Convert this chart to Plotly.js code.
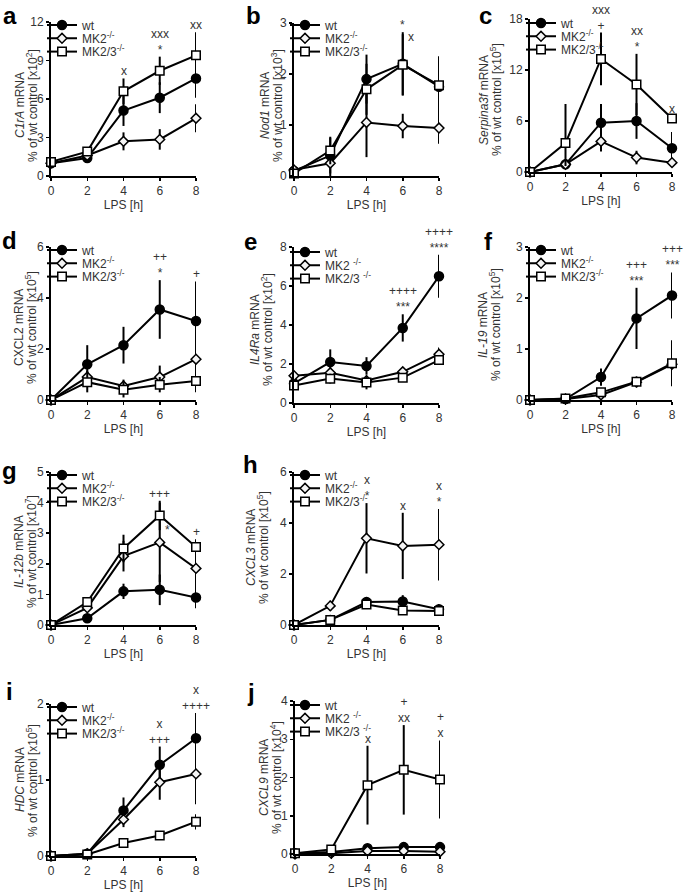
<!DOCTYPE html>
<html><head><meta charset="utf-8">
<script src="https://cdn.plot.ly/plotly-3.0.1.min.js"></script>
<style>html,body{margin:0;padding:0;background:#fff}</style>
</head><body><div id="chart" style="width:685px;height:896px"></div>
<script>
// ---------- DATA ----------
const hours = [0, 2, 4, 6, 8];
const seriesNames = ['wt', 'MK2<sup>-/-</sup>', 'MK2/3<sup>-/-</sup>'];
const seriesNamesSp = ['wt', 'MK2 <sup>-/-</sup>', 'MK2/3 <sup>-/-</sup>'];
const panelLetters = ['a','b','c','d','e','f','g','h','i','j'];
const geneNames = ['<i>C1rA</i>','<i>Nod1</i>','<i>Serpina3f</i>','CXCL2','<i>IL4Ra</i>','<i>IL-19</i>','<i>IL-12b</i>','<i>CXCL3</i>','<i>HDC</i>','<i>CXCL9</i>'];
const exponents = [2, 3, 5, 5, 2, 5, 7, 5, 5, 4];
const yMax = [12, 3, 18, 6, 8, 3, 5, 6, 2, 4];
const yStep = [3, 1, 6, 2, 2, 1, 1, 2, 1, 1];

// a  C1rA
const aWt = [1.0, 1.4, 5.1, 6.1, 7.6],   aWtErr = [0.1, 0.25, 1.2, 1.2, 1.5];
const aMk2 = [1.0, 1.6, 2.7, 2.85, 4.5], aMk2Err = [0.1, 0.2, 0.7, 0.8, 1.1];
const aMk23 = [1.1, 1.9, 6.6, 8.2, 9.4], aMk23Err = [0.1, 0.25, 1.0, 1.1, 1.8];
// b  Nod1
const bWt = [0.1, 0.4, 1.9, 2.2, 1.75],    bWtErr = [0.05, 0.35, 0.48, 0.62, 0.6];
const bMk2 = [0.12, 0.25, 1.05, 0.98, 0.94], bMk2Err = [0.05, 0.25, 0.68, 0.24, 0.31];
const bMk23 = [0.05, 0.5, 1.7, 2.18, 1.78], bMk23Err = [0.05, 0.27, 0.5, 0.6, 0.55];
// c  Serpina3f
const cWt = [0, 0.9, 5.8, 6.0, 2.8],     cWtErr = [0, 0.4, 2.2, 2.1, 1.9];
const cMk2 = [0, 0.9, 3.6, 1.7, 1.1],    cMk2Err = [0, 0.3, 1.2, 0.8, 0.5];
const cMk23 = [0, 3.4, 13.3, 10.3, 6.3], cMk23Err = [0, 4.6, 3.1, 3.6, 0.3], cMk23ErrMinus = [0, 2.7, 3.1, 3.6, 0.3];
// d  CXCL2
const dWt = [0, 1.4, 2.15, 3.55, 3.1],  dWtErr = [0, 0.75, 0.72, 1.15, 1.55];
const dMk2 = [0, 0.9, 0.55, 0.9, 1.6],  dMk2Err = [0, 0.25, 0.25, 0.45, 0.6];
const dMk23 = [0, 0.7, 0.4, 0.6, 0.75], dMk23Err = [0, 0.4, 0.3, 0.3, 0.45];
// e  IL4Ra
const eWt = [1.0, 2.1, 1.9, 3.85, 6.5],   eWtErr = [0.2, 0.65, 0.45, 0.7, 1.1];
const eMk2 = [1.4, 1.55, 1.15, 1.6, 2.5], eMk2Err = [0.15, 0.2, 0.15, 0.2, 0.35];
const eMk23 = [0.9, 1.25, 1.05, 1.3, 2.2], eMk23Err = [0.15, 0.25, 0.35, 0.2, 0.2];
// f  IL-19
const fWt = [0, 0.02, 0.45, 1.6, 2.05],  fWtErr = [0, 0.02, 0.17, 0.6, 0.45];
const fMk2 = [0, 0.02, 0.1, 0.35, 0.7],  fMk2Err = [0, 0.02, 0.05, 0.1, 0.4];
const fMk23 = [0, 0.03, 0.15, 0.36, 0.72], fMk23Err = [0, 0.02, 0.06, 0.1, 0.45];
// g  IL-12b
const gWt = [0, 0.22, 1.1, 1.15, 0.9],    gWtErr = [0, 0.08, 0.25, 0.5, 0.35];
const gMk2 = [0, 0.56, 2.25, 2.7, 1.85],  gMk2Err = [0, 0.1, 0.5, 1.3, 0.8];
const gMk23 = [0, 0.75, 2.5, 3.58, 2.55], gMk23Err = [0, 0.1, 0.45, 0.48, 0.25];
// h  CXCL3
const hWt = [0, 0.2, 0.9, 0.92, 0.62],   hWtErr = [0, 0.1, 0.2, 0.25, 0.2];
const hMk2 = [0, 0.75, 3.4, 3.1, 3.15],  hMk2Err = [0, 0.2, 1.38, 1.3, 1.4];
const hMk23 = [0, 0.2, 0.8, 0.57, 0.55], hMk23Err = [0, 0.05, 0.15, 0.15, 0.15];
// i  HDC
const iWt = [0, 0.03, 0.6, 1.2, 1.55],   iWtErr = [0, 0.02, 0.17, 0.24, 0.33];
const iMk2 = [0, 0.03, 0.48, 0.97, 1.08], iMk2Err = [0, 0.02, 0.1, 0.23, 0.4];
const iMk23 = [0, 0.02, 0.17, 0.27, 0.45], iMk23Err = [0, 0.01, 0.05, 0.05, 0.1];
// j  CXCL9
const jWt = [0.02, 0.05, 0.15, 0.18, 0.18], jWtErr = [0, 0.02, 0.05, 0.05, 0.05];
const jMk2 = [0.0, 0.02, 0.08, 0.08, 0.06], jMk2Err = [0, 0.01, 0.03, 0.03, 0.03];
const jMk23 = [0.02, 0.12, 1.8, 2.2, 1.95], jMk23Err = [0, 0.05, 1.03, 1.17, 1.02];

// significance labels (lower line just above the bars, upper line above it)
const sigLow = [
  ['', '', 'x', '*', 'xx'], ['', '', '', '*', ''], ['', '', '+', '*', 'x'],
  ['', '', '', '*', '+'], ['', '', '', '***', '****'], ['', '', '', '***', '***'],
  ['', '', '', '+++', '+'], ['', '', '*', 'x', '*'], ['', '', '', '+++', '++++'],
  ['', '', 'x', 'xx', 'x']];
const sigHigh = [
  ['', '', '', 'xxx', ''], ['', '', '', '', ''], ['', '', 'xxx', 'xx', ''],
  ['', '', '', '++', ''], ['', '', '', '++++', '++++'], ['', '', '', '+++', '+++'],
  ['', '', '', '', ''], ['', '', 'x', '', 'x'], ['', '', '', 'x', 'x'],
  ['', '', '', '+', '+']];
const sideNotes = [{panel: 1, x: 6, y: 2.72, t: 'x'}, {panel: 6, x: 6, y: 3.1, t: '*'}];

const wtVals = [aWt, bWt, cWt, dWt, eWt, fWt, gWt, hWt, iWt, jWt];
const wtErrs = [aWtErr, bWtErr, cWtErr, dWtErr, eWtErr, fWtErr, gWtErr, hWtErr, iWtErr, jWtErr];
const mk2Vals = [aMk2, bMk2, cMk2, dMk2, eMk2, fMk2, gMk2, hMk2, iMk2, jMk2];
const mk2Errs = [aMk2Err, bMk2Err, cMk2Err, dMk2Err, eMk2Err, fMk2Err, gMk2Err, hMk2Err, iMk2Err, jMk2Err];
const mk23Vals = [aMk23, bMk23, cMk23, dMk23, eMk23, fMk23, gMk23, hMk23, iMk23, jMk23];
const mk23Errs = [aMk23Err, bMk23Err, cMk23Err, dMk23Err, eMk23Err, fMk23Err, gMk23Err, hMk23Err, iMk23Err, jMk23Err];
const mk23ErrsMinus = [aMk23Err, bMk23Err, cMk23ErrMinus, dMk23Err, eMk23Err, fMk23Err, gMk23Err, hMk23Err, iMk23Err, jMk23Err];

// ---------- GEOMETRY (pixels) ----------
const W = 685, H = 896;
// [xLeft, xRight, yTop, yBottom]
const boxes = [
  [51, 196, 22, 176], [294, 439, 23, 176], [530, 672, 19, 172],
  [51, 196, 247, 400], [294, 439, 247, 403], [530, 672, 247, 400],
  [51, 196, 472, 625], [294, 439, 472, 625],
  [51, 196, 704, 856], [295, 440, 701, 854]];
// letter: [x center, y top]
const letterPos = [[10, 0], [253, 0], [486, 0], [9, 225], [250, 226], [488, 226], [9, 455], [250, 449], [9, 676], [251, 677]];
// y title: [x line1, x line2, y center]
const yTitlePos = [[20, 32, 105], [265, 277, 106], [484, 496, 100], [19, 31, 328], [255, 267, 330], [483, 495, 325], [19, 31, 552], [251, 263, 548], [20, 32, 780], [264, 276, 778]];
// legend: [axis x, first item center y]
const legendPos = [[50, 25], [293, 25], [529, 23], [50, 250], [293, 252], [529, 250], [50, 475], [293, 475], [50, 707], [293, 705]];
const legendStep = 13.3;

const TXT = '#333';
const FONT = 'Arial, "Liberation Sans", sans-serif';
const traces = [], annotations = [];
const layout = {
  width: W, height: H, margin: {l: 0, r: 0, t: 0, b: 0},
  paper_bgcolor: '#fff', plot_bgcolor: 'rgba(0,0,0,0)',
  font: {family: FONT, size: 12, color: TXT},
  showlegend: true
};

const styles = [
  {symbol: 'circle', size: 9, color: '#000'},
  {symbol: 'diamond', size: 7.5, color: '#f4f4f4'},
  {symbol: 'square', size: 8.5, color: '#fff'}];

for (let p = 0; p < 10; p++) {
  const n = p === 0 ? '' : String(p + 1);
  const xa = 'x' + n, ya = 'y' + n;
  const [xl, xr, yt, yb] = boxes[p];
  layout['xaxis' + n] = {
    domain: [xl / W, xr / W], range: [0, 8], anchor: ya,
    tickvals: hours, ticks: 'outside', ticklen: 3, tickwidth: 1.5, tickcolor: '#000',
    showline: true, linewidth: 2, linecolor: '#000', showgrid: false, zeroline: false,
    tickfont: {size: 12, color: TXT},
    title: {text: 'LPS [h]', font: {size: 12, color: TXT}, standoff: 2}
  };
  layout['yaxis' + n] = {
    domain: [1 - yb / H, 1 - yt / H], range: [0, yMax[p]], anchor: xa,
    dtick: yStep[p], ticks: 'outside', ticklen: 3, tickwidth: 1.5, tickcolor: '#000',
    showline: true, linewidth: 2, linecolor: '#000', showgrid: false, zeroline: false,
    tickfont: {size: 12, color: TXT}
  };
  const names = (p === 4 || p === 9) ? seriesNamesSp : seriesNames;
  const vals = [wtVals[p], mk2Vals[p], mk23Vals[p]];
  const errs = [wtErrs[p], mk2Errs[p], mk23Errs[p]];
  const errsM = [wtErrs[p], mk2Errs[p], mk23ErrsMinus[p]];
  for (let s = 0; s < 3; s++) {
    const idx = p * 3 + s;
    const lg = idx === 0 ? 'legend' : 'legend' + (idx + 1);
    const [lx, ly] = legendPos[p];
    layout[lg] = {
      x: (lx - 8) / W, xanchor: 'left', y: 1 - (ly + s * legendStep) / H, yanchor: 'middle',
      bgcolor: 'rgba(0,0,0,0)', borderwidth: 0, font: {size: 12, color: TXT},
      itemwidth: 30, tracegroupgap: 0
    };
    traces.push({
      type: 'scatter', mode: 'lines+markers', x: hours, y: vals[s],
      xaxis: xa, yaxis: ya, legend: lg, name: names[s], cliponaxis: false,
      line: {color: '#000', width: 2},
      marker: {symbol: styles[s].symbol, size: styles[s].size, color: styles[s].color, line: {color: '#000', width: 1.5}},
      error_y: {type: 'data', symmetric: false, array: errs[s], arrayminus: errsM[s], color: '#000', thickness: 2, width: 0}
    });
  }
  // significance marks stacked above the highest bar
  for (let i = 0; i < hours.length; i++) {
    let top = 0;
    for (let s = 0; s < 3; s++) top = Math.max(top, vals[s][i] + errs[s][i]);
    const lines = [sigHigh[p][i], sigLow[p][i]].filter(t => t);
    if (lines.length) annotations.push({xref: xa, yref: ya, x: hours[i], y: top, text: lines.join('<br>'), showarrow: false, yanchor: 'bottom', yshift: -2, font: {size: 12, color: TXT}});
  }
  annotations.push({xref: 'paper', yref: 'paper', x: letterPos[p][0] / W, y: 1 - letterPos[p][1] / H, text: '<b>' + panelLetters[p] + '</b>', showarrow: false, xanchor: 'center', yanchor: 'top', font: {size: 24, color: '#000', family: FONT}});
  const [t1, t2, tc] = yTitlePos[p];
  annotations.push({xref: 'paper', yref: 'paper', x: t1 / W, y: 1 - tc / H, textangle: -90,
    text: geneNames[p] + ' mRNA', showarrow: false, xanchor: 'center', yanchor: 'middle', font: {size: 12, color: TXT}});
  annotations.push({xref: 'paper', yref: 'paper', x: t2 / W, y: 1 - tc / H, textangle: -90,
    text: '% of wt control [x10<sup>' + exponents[p] + '</sup>]', showarrow: false, xanchor: 'center', yanchor: 'middle', font: {size: 12, color: TXT}});
}
sideNotes.forEach(sn => {
  const n = sn.panel === 0 ? '' : String(sn.panel + 1);
  annotations.push({xref: 'x' + n, yref: 'y' + n, x: sn.x, y: sn.y, text: sn.t, showarrow: false, xanchor: 'left', xshift: 3, yanchor: 'middle', font: {size: 12, color: TXT}});
});
layout.annotations = annotations;

Plotly.newPlot('chart', traces, layout, {staticPlot: true, displayModeBar: false});
</script>
</body></html>
